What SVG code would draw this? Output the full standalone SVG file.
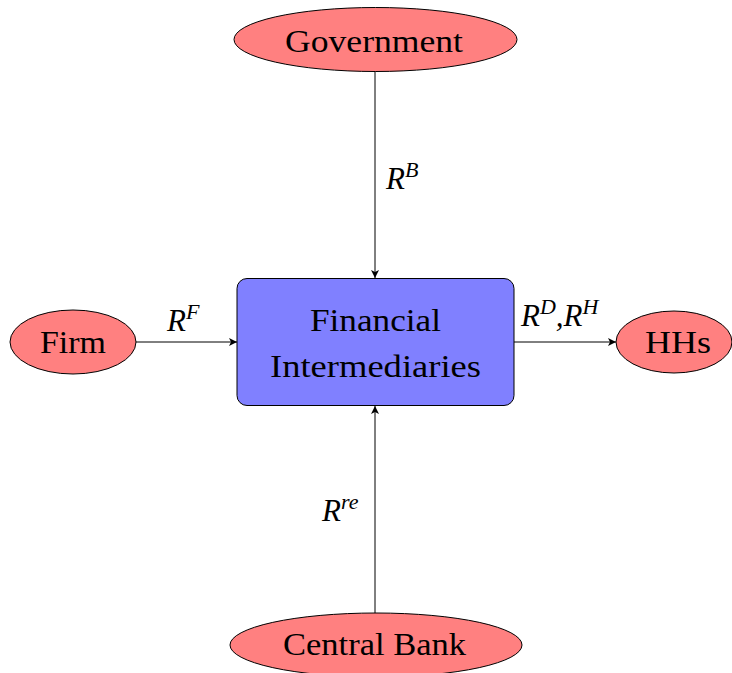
<svg xmlns="http://www.w3.org/2000/svg" width="732" height="673" viewBox="0 0 732 673">
<style>
.el{fill:#ff8080;stroke:#000;stroke-width:1}
.bx{fill:#8080ff;stroke:#000;stroke-width:1}
.t{font-family:"Liberation Serif","Times New Roman",serif;font-size:32px;fill:#000}
.m{font-family:"Liberation Serif","Times New Roman",serif;font-style:italic;font-size:31px;fill:#000}
.s{font-size:22px}
.c{stroke:#000;stroke-width:1;fill:none;marker-end:url(#ah)}
</style>
<defs>
<marker id="ah" markerWidth="10" markerHeight="8" refX="8" refY="4" orient="auto" markerUnits="userSpaceOnUse">
<path d="M0,0 L8,4 L0,8 L2,4 Z" fill="#000"/>
</marker>
</defs>
<rect width="732" height="673" fill="#fff"/>
<g id="connectors">
<line class="c" x1="375" y1="71" x2="375" y2="278"/>
<line class="c" x1="375" y1="613" x2="375" y2="406"/>
<line class="c" x1="136" y1="342" x2="237" y2="342"/>
<line class="c" x1="514" y1="342" x2="616" y2="342"/>
</g>
<g id="labels">
<text class="m" x="386" y="189">R<tspan class="s" dy="-12">B</tspan></text>
<text class="m" x="167" y="331">R<tspan class="s" dy="-12">F</tspan></text>
<text class="m" x="521" y="326">R<tspan class="s" dy="-12">D</tspan><tspan dy="12">,R</tspan><tspan class="s" dy="-12">H</tspan></text>
<text class="m" x="322" y="521">R<tspan class="s" dy="-12">re</tspan></text>
</g>
<g id="government">
<ellipse class="el" cx="375.5" cy="39.5" rx="141.5" ry="32"/>
<text class="t" x="285" y="52" textLength="178" lengthAdjust="spacingAndGlyphs">Government</text>
</g>
<g id="firm">
<ellipse class="el" cx="73" cy="342" rx="63" ry="32"/>
<text class="t" x="40" y="353" textLength="66" lengthAdjust="spacingAndGlyphs">Firm</text>
</g>
<g id="hhs">
<ellipse class="el" cx="674" cy="342" rx="58" ry="31"/>
<text class="t" x="645" y="353" textLength="66" lengthAdjust="spacingAndGlyphs">HHs</text>
</g>
<g id="central-bank">
<ellipse class="el" cx="376" cy="645" rx="146" ry="32"/>
<text class="t" x="283" y="655" textLength="183" lengthAdjust="spacingAndGlyphs">Central Bank</text>
</g>
<g id="financial-intermediaries">
<rect class="bx" x="237" y="278.5" width="277" height="127" rx="10" ry="10"/>
<text class="t" x="310" y="331" textLength="131" lengthAdjust="spacingAndGlyphs">Financial</text>
<text class="t" x="270" y="377" textLength="211" lengthAdjust="spacingAndGlyphs">Intermediaries</text>
</g>
</svg>
